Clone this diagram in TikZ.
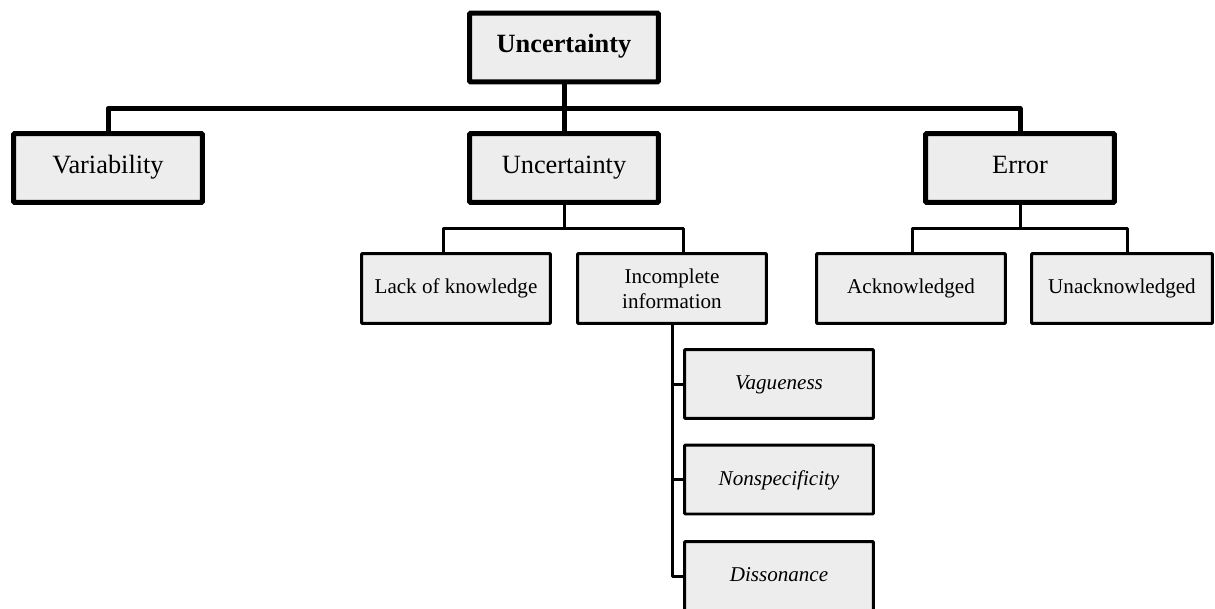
\documentclass[tikz,border=0pt]{standalone}
\usepackage{fontspec}
\setmainfont{Liberation Serif}
\usepackage{tikz}
\usetikzlibrary{positioning}

\begin{document}
\begin{tikzpicture}[x=0.02cm, y=-0.02cm,
  box/.style={draw, fill=black!7, rounded corners=0.6pt, align=center, inner sep=0pt},
  bigbox/.style={box, line width=0.1cm, minimum width=3.78cm, minimum height=1.38cm,
    font=\fontsize{15}{17}\selectfont, text height=0.72em, text depth=0.14em},
  smallbox/.style={box, line width=0.06cm, minimum width=3.78cm, minimum height=1.40cm,
    font=\fontsize{12}{14.2}\selectfont, text height=0.72em, text depth=0.1em},
  leafbox/.style={smallbox, minimum height=1.38cm, font=\fontsize{12}{14.2}\selectfont\itshape,
    text height=0.75em, text depth=0.08em},
  bigline/.style={line width=0.1cm, line join=round},
  smallline/.style={line width=0.06cm, line join=round}]
\useasboundingbox (0,0) rectangle (1215,609);

% Define nodes
% Top node
\node[bigbox] (root) at (564,47.5) {\textbf{Uncertainty}};
% First level
\node[bigbox] (var) at (108,168) {Variability};
\node[bigbox] (unc) at (564,168) {Uncertainty};
\node[bigbox] (err) at (1020,168) {Error};
% Second level
\node[smallbox] (lack) at (456,288.5) {Lack of knowledge};
\node[smallbox, text height=, text depth=] (inc) at (672,288.5) {Incomplete\\information};
\node[smallbox] (ack) at (911,288.5) {Acknowledged};
\node[smallbox, minimum width=3.62cm] (unack) at (1122,288.5) {Unacknowledged};
% Leaves
\node[leafbox] (vag) at (779,384) {Vagueness};
\node[leafbox] (nonsp) at (779,479.5) {Nonspecificity};
\node[leafbox] (diss) at (779,576) {Dissonance};

% Edges
\coordinate (bus) at (564,108.5);
\coordinate (uncbus) at (564,228);
\coordinate (errbus) at (1020,228);
\draw[bigline] (root.south) -- (unc.north);
\draw[bigline] (var.north) |- (bus) -| (err.north);
\draw[smallline] (unc.south) -- (uncbus);
\draw[smallline] ([xshift=-0.26cm]lack.north) |- (uncbus) -| ([xshift=0.22cm]inc.north);
\draw[smallline] (err.south) -- (errbus);
\draw[smallline] ([xshift=0.02cm]ack.north) |- (errbus) -| ([xshift=0.1cm]unack.north);
\draw[smallline] (inc.south) |- (diss.west);
\draw[smallline] (vag.west -| inc.south) -- (vag.west);
\draw[smallline] (nonsp.west -| inc.south) -- (nonsp.west);
\end{tikzpicture}
\end{document}
